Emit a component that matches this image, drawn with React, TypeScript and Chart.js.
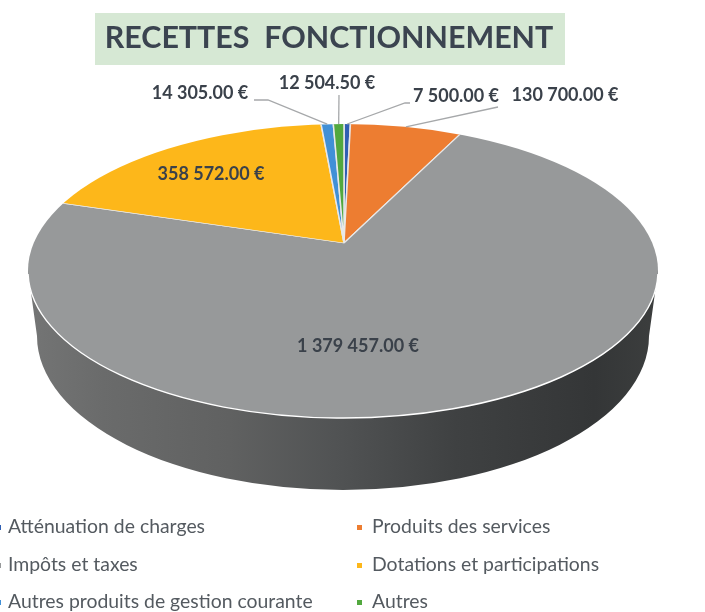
import React, { useEffect, useRef } from "react";
import { Chart, registerables } from "chart.js";

Chart.register(...registerables);

const categories = [
  "Atténuation de charges",
  "Produits des services",
  "Impôts et taxes",
  "Dotations et participations",
  "Autres produits de gestion courante",
  "Autres",
];
const amounts = [7500, 130700, 1379457, 358572, 14305, 12504.5];
const sliceColors = ["#2f5fb3", "#ed7d31", "#97999a", "#fdb71a", "#4190d6", "#52a83f"];
const titleText = "RECETTES  FONCTIONNEMENT";

// Layout of the tilted pie
const APEX = { x: 344, y: 243 };
const TOP = { cx: 343, cy: 271, rx: 315, ry: 147 };
const BASE = { cx: 343, cy: 336, rx: 306, ry: 154 };
const SCALE_X = 1.5;
const SCALE_Y = 0.69;

// Label layout, indexed as the categories: text centre, and optional leader elbow
const labelLayout = [
  { x: 456, y: 96, elbow: [405, 103], start: [410, 103] },
  { x: 565, y: 95, elbow: null, start: [498, 107] },
  { x: 358, y: 346, elbow: null, start: null },
  { x: 211, y: 174, elbow: null, start: null },
  { x: 200, y: 93, elbow: [268, 100], start: [254, 100] },
  { x: 327, y: 83, elbow: null, start: [339, 95] },
];
const legendLayout = [
  { x: -1, y: 527 },
  { x: 360, y: 527 },
  { x: -1, y: 565 },
  { x: 360, y: 565 },
  { x: -1, y: 602 },
  { x: 360, y: 602 },
];

const FONT = "Lato, 'Open Sans', sans-serif";

function formatAmount(v: number) {
  const [i, d] = v.toFixed(2).split(".");
  return i.replace(/\B(?=(\d{3})+$)/g, " ") + "." + d + " €";
}

function rimPoint(midAngle: number) {
  const dx = Math.cos(midAngle) * SCALE_X;
  const dy = Math.sin(midAngle) * SCALE_Y;
  const ox = (APEX.x - TOP.cx) / TOP.rx;
  const oy = (APEX.y - TOP.cy) / TOP.ry;
  const ax = dx / TOP.rx;
  const ay = dy / TOP.ry;
  const a = ax * ax + ay * ay;
  const b = 2 * (ox * ax + oy * ay);
  const c = ox * ox + oy * oy - 1;
  const t = (-b + Math.sqrt(b * b - 4 * a * c)) / (2 * a);
  return { x: APEX.x + dx * t, y: APEX.y + dy * t };
}

const tiltedPie = {
  id: "tiltedPie",
  beforeDatasetsDraw(chart: any) {
    const { ctx, chartArea } = chart;
    ctx.save();
    // side wall
    const grad = ctx.createLinearGradient(28, 0, 657, 0);
    grad.addColorStop(0, "#747575");
    grad.addColorStop(0.12, "#6a6b6b");
    grad.addColorStop(0.32, "#606161");
    grad.addColorStop(0.5, "#505253");
    grad.addColorStop(0.68, "#3f4142");
    grad.addColorStop(0.9, "#343637");
    grad.addColorStop(1, "#3c3e3e");
    ctx.fillStyle = grad;
    ctx.beginPath();
    ctx.moveTo(TOP.cx - TOP.rx, TOP.cy);
    ctx.lineTo(BASE.cx - BASE.rx, BASE.cy);
    ctx.ellipse(BASE.cx, BASE.cy, BASE.rx, BASE.ry, 0, Math.PI, 0, true);
    ctx.lineTo(TOP.cx + TOP.rx, TOP.cy);
    ctx.closePath();
    ctx.fill();
    // top surface, clipped to its ellipse
    ctx.beginPath();
    ctx.ellipse(TOP.cx, TOP.cy, TOP.rx, TOP.ry, 0, 0, Math.PI * 2);
    ctx.clip();
    const mx = (chartArea.left + chartArea.right) / 2;
    const my = (chartArea.top + chartArea.bottom) / 2;
    ctx.translate(APEX.x, APEX.y);
    ctx.scale(SCALE_X, SCALE_Y);
    ctx.translate(-mx, -my);
  },
  afterDatasetsDraw(chart: any) {
    const { ctx } = chart;
    ctx.restore();
    ctx.save();
    // light rim on the front edge
    ctx.strokeStyle = "#ffffff";
    ctx.lineWidth = 1.4;
    ctx.beginPath();
    ctx.ellipse(TOP.cx, TOP.cy, TOP.rx, TOP.ry, 0, 0.02, Math.PI - 0.02);
    ctx.stroke();

    const meta = chart.getDatasetMeta(0);
    const data = chart.data.datasets[0].data as number[];
    // leaders
    ctx.strokeStyle = "#a6a8aa";
    ctx.lineWidth = 1.3;
    labelLayout.forEach((l, i) => {
      if (!l.start) return;
      const arc = meta.data[i];
      const end = rimPoint((arc.startAngle + arc.endAngle) / 2);
      ctx.beginPath();
      ctx.moveTo(l.start[0], l.start[1]);
      if (l.elbow) ctx.lineTo(l.elbow[0], l.elbow[1]);
      ctx.lineTo(end.x, end.y);
      ctx.stroke();
    });
    // value labels
    ctx.fillStyle = "#3a414a";
    ctx.font = `bold 18px ${FONT}`;
    ctx.textAlign = "center";
    ctx.textBaseline = "middle";
    labelLayout.forEach((l, i) => ctx.fillText(formatAmount(data[i]), l.x, l.y));
    // legend
    ctx.textAlign = "left";
    ctx.font = `19.4px ${FONT}`;
    (chart.data.labels as string[]).forEach((name, i) => {
      const p = legendLayout[i];
      ctx.fillStyle = sliceColors[i];
      ctx.fillRect(p.x - 3, p.y - 2, 5, 5);
      ctx.fillStyle = "#545a60";
      ctx.fillText(name, p.x + (p.x < 0 ? 9 : 12), p.y);
    });
    // title
    ctx.fillStyle = "#d6e8d4";
    ctx.fillRect(95, 13, 470, 52);
    ctx.fillStyle = "#3b4450";
    ctx.font = `bold 30.4px ${FONT}`;
    ctx.textAlign = "center";
    ctx.fillText(titleText, 329, 38);
    ctx.restore();
  },
};

export default function App() {
  const ref = useRef<HTMLCanvasElement>(null);
  useEffect(() => {
    const chart = new Chart(ref.current!, {
      type: "pie",
      data: {
        labels: categories,
        datasets: [
          {
            data: amounts,
            backgroundColor: sliceColors,
            borderColor: "#e8e8e8",
            borderWidth: 1,
          },
        ],
      },
      options: {
        responsive: false,
        animation: false,
        events: [],
        plugins: { legend: { display: false }, tooltip: { enabled: false } },
      },
      plugins: [tiltedPie],
    });
    return () => chart.destroy();
  }, []);
  return (
    <div style={{ position: "fixed", left: 0, top: 0, width: 705, height: 612, background: "#fff" }}>
      <canvas ref={ref} width={705} height={612} style={{ display: "block", filter: "blur(0.4px)" }} />
    </div>
  );
}
